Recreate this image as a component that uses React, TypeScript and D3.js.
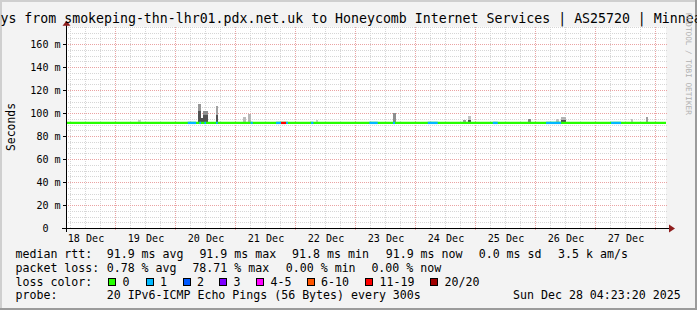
import React, { useEffect } from 'react';
import * as d3 from 'd3';

const W = 697;
const H = 310;
const MONO = '"DejaVu Sans Mono", monospace';

// ---------- data ----------
const titleText =
  '10 Days from smokeping-thn-lhr01.pdx.net.uk to Honeycomb Internet Services | AS25720 | Minneapolis, MN';
const rangeStart = '2025-12-18T04:23:20Z';
const rangeEnd = '2025-12-28T04:23:20Z';
const yMaxMs = 175;
const yMajorTicks = [0, 20, 40, 60, 80, 100, 120, 140, 160];
const medianRttMs = 91.9;

// loss episodes: start, end, lost pings (of 20)
const lossStart = [
  '2025-12-20T05:05Z', '2025-12-20T09:45Z', '2025-12-20T11:45Z', '2025-12-20T16:25Z',
  '2025-12-21T06:15Z', '2025-12-21T16:25Z', '2025-12-21T18:25Z', '2025-12-21T20:25Z',
  '2025-12-22T06:25Z', '2025-12-23T05:45Z', '2025-12-23T15:10Z', '2025-12-24T05:05Z',
  '2025-12-25T07:05Z', '2025-12-26T04:25Z', '2025-12-27T06:25Z',
];
const lossEnd = [
  '2025-12-20T08:25Z', '2025-12-20T10:25Z', '2025-12-20T12:25Z', '2025-12-20T17:05Z',
  '2025-12-21T07:05Z', '2025-12-21T18:25Z', '2025-12-21T20:25Z', '2025-12-21T21:10Z',
  '2025-12-22T07:20Z', '2025-12-23T09:05Z', '2025-12-23T16:00Z', '2025-12-24T09:05Z',
  '2025-12-25T09:05Z', '2025-12-26T10:25Z', '2025-12-27T10:25Z',
];
const lossCount = [1, 1, 1, 1, 1, 1, 12, 1, 1, 1, 1, 1, 1, 1, 1];

// smoke (rtt spread): start, end, dense-band top (ms), outer-band top (ms), outer density
const smokeStart = [
  '2025-12-19T09:05Z', '2025-12-20T09:05Z', '2025-12-20T10:25Z', '2025-12-20T11:20Z',
  '2025-12-20T16:25Z', '2025-12-21T03:05Z', '2025-12-21T05:05Z', '2025-12-22T08:25Z',
  '2025-12-23T15:05Z', '2025-12-24T19:05Z', '2025-12-24T21:05Z', '2025-12-25T21:05Z',
  '2025-12-26T08:25Z', '2025-12-26T10:25Z', '2025-12-27T14:25Z', '2025-12-27T20:25Z',
];
const smokeEnd = [
  '2025-12-19T10:25Z', '2025-12-20T10:25Z', '2025-12-20T11:20Z', '2025-12-20T13:10Z',
  '2025-12-20T17:10Z', '2025-12-21T04:25Z', '2025-12-21T06:25Z', '2025-12-22T09:05Z',
  '2025-12-23T16:25Z', '2025-12-24T20:25Z', '2025-12-24T22:25Z', '2025-12-25T22:25Z',
  '2025-12-26T09:30Z', '2025-12-26T12:25Z', '2025-12-27T15:20Z', '2025-12-27T21:20Z',
];
const smokeDense = [91.9, 102.0, 95.7, 98.3, 98.3, 91.9, 91.9, 91.9, 91.9, 91.9, 94.0, 91.9, 91.9, 94.3, 91.9, 91.9];
const smokeOuter = [93.9, 107.8, 95.7, 102.0, 106.1, 96.3, 99.1, 93.5, 100.3, 93.9, 97.4, 94.8, 94.8, 96.8, 94.8, 96.5];
const smokeOuterDensity = [0.12, 0.5, 0.5, 0.55, 0.42, 0.25, 0.28, 0.15, 0.55, 0.45, 0.22, 0.6, 0.22, 0.3, 0.22, 0.45];

// legend
const lossThresholds = [1, 2, 3, 4, 6, 11, 20];
const lossColors = ['#26ff00', '#00b8ff', '#0059ff', '#7e00ff', '#ff00ff', '#ff5500', '#ff0000', '#a00000'];
const lossLabels = ['0', '1', '2', '3', '4-5', '6-10', '11-19', '20/20'];
const rttStats = ['91.9 ms avg', '91.9 ms max', '91.8 ms min', '91.9 ms now', '0.0 ms sd', '3.5 k am/s'];
const lossStats = ['0.78 % avg', '78.71 % max', '0.00 % min', '0.00 % now'];
const probeText = '20 IPv6-ICMP Echo Pings (56 Bytes) every 300s';
const stampText = 'Sun Dec 28 04:23:20 2025';

// ---------- layout ----------
const X0 = 66;
const X1 = 666;
const Y0 = 228;
const Y1 = Y0 - yMaxMs * 1.15;
const rttStatX = [107.3, 200, 292.7, 386.3, 479.3, 558.7];
const lossStatX = [107.3, 193, 286.4, 372];
const swatchX = [108, 145.5, 182.5, 219, 256, 306.5, 365, 430];
const rowY = [258, 271.8, 285.6, 299.4];

export default function App() {
  useEffect(() => {
    document.body.style.margin = '0';
  }, []);

  const parse = (s: string) => new Date(s);
  const x = d3.scaleUtc().domain([parse(rangeStart), parse(rangeEnd)]).range([X0, X1]);
  const y = d3.scaleLinear().domain([0, yMaxMs]).range([Y0, Y1]);
  const lossColor = d3.scaleThreshold<number, string>().domain(lossThresholds).range(lossColors);
  const shade = d3.interpolateRgb('#e2e2e2', '#4a4a4a');

  const [d0, d1] = x.domain();
  const minorX = d3.utcHour.every(6)!.range(d0, d1);
  const majorX = d3.utcDay.range(d0, d1);
  const labelDays = d3.utcDay
    .range(d3.utcDay.offset(d0, -1), d1)
    .map((d) => d3.utcHour.offset(d, 12))
    .filter((d) => d >= d0 && d <= d1);
  const fmt = d3.utcFormat('%d %b');
  const minorY = d3.range(5, yMaxMs + 0.1, 5).filter((v) => v % 20 !== 0);
  const majorY = yMajorTicks.filter((v) => v > 0);

  const px = (v: number) => Math.round(v) + 0.5;

  return (
    <svg
      width={W}
      height={H}
      style={{ position: 'absolute', left: 0, top: 0, display: 'block' }}
      fontFamily={MONO}
    >
      {/* background and frame */}
      <rect x={0} y={0} width={W} height={H} fill="#f3f3f3" />
      <rect x={0} y={0} width={W} height={2} fill="#cfcfcf" />
      <rect x={0} y={0} width={2} height={H} fill="#cfcfcf" />
      <rect x={0} y={H - 2} width={W} height={2} fill="#9b9b9b" />
      <rect x={W - 2} y={0} width={2} height={H} fill="#9b9b9b" />

      {/* canvas */}
      <rect x={X0} y={Y1} width={X1 - X0} height={Y0 - Y1} fill="#ffffff" />

      {/* grid */}
      <g shapeRendering="crispEdges" strokeDasharray="1,1" strokeWidth={1}>
        {minorY.map((v) => (
          <line key={'my' + v} x1={X0} x2={X1 + 2} y1={px(y(v))} y2={px(y(v))} stroke="#d6d6d6" />
        ))}
        {minorX
          .filter((d) => d.getUTCHours() !== 0)
          .map((d) => (
            <line key={'mx' + +d} x1={px(x(d))} x2={px(x(d))} y1={Y1} y2={Y0} stroke="#d6d6d6" />
          ))}
        {majorY.map((v) => (
          <line key={'My' + v} x1={X0 - 2} x2={X1 + 2} y1={px(y(v))} y2={px(y(v))} stroke="#eaa3a3" />
        ))}
        {majorX.map((d) => (
          <line key={'Mx' + +d} x1={px(x(d))} x2={px(x(d))} y1={Y1} y2={Y0 + 2} stroke="#eaa3a3" />
        ))}
      </g>

      {/* smoke */}
      <g shapeRendering="crispEdges">
        {smokeStart.map((s, i) => {
          const xa = x(parse(s));
          const xb = x(parse(smokeEnd[i]));
          const dense = smokeDense[i];
          const outer = smokeOuter[i];
          return (
            <g key={'s' + i}>
              {outer > dense && (
                <rect x={xa} y={y(outer)} width={xb - xa} height={y(dense) - y(outer)} fill={shade(smokeOuterDensity[i])} />
              )}
              {dense > medianRttMs && (
                <rect x={xa} y={y(dense)} width={xb - xa} height={y(medianRttMs) - y(dense)} fill={shade(0.95)} />
              )}
            </g>
          );
        })}
      </g>

      {/* median line, coloured by loss */}
      <line
        x1={x(parse(rangeStart))}
        x2={x(parse(rangeEnd))}
        y1={y(medianRttMs) + 0.6}
        y2={y(medianRttMs) + 0.6}
        stroke={lossColor(0)}
        strokeWidth={2.3}
      />
      {lossStart.map((s, i) => (
        <line
          key={'l' + i}
          x1={x(parse(s))}
          x2={x(parse(lossEnd[i]))}
          y1={y(medianRttMs) + 0.6}
          y2={y(medianRttMs) + 0.6}
          stroke={lossColor(lossCount[i])}
          strokeWidth={2.3}
        />
      ))}

      {/* axes */}
      <g shapeRendering="crispEdges">
        <line x1={X0 - 4} x2={X1 + 5} y1={Y0 + 0.5} y2={Y0 + 0.5} stroke="#000" />
        <line x1={X0 + 0.5} x2={X0 + 0.5} y1={Y0 + 4} y2={Y1 - 3} stroke="#000" />
        {majorY.map((v) => (
          <line key={'t' + v} x1={X0 - 3} x2={X0} y1={px(y(v))} y2={px(y(v))} stroke="#000" />
        ))}
      </g>
      <path d={`M${X0 - 3.5},${Y1 - 1} L${X0 + 4.5},${Y1 - 1} L${X0 + 0.5},${Y1 - 6} Z`} fill="#8f1d1d" />
      <path d={`M${X1 + 3},${Y0 - 3.5} L${X1 + 3},${Y0 + 4.5} L${X1 + 9},${Y0 + 0.5} Z`} fill="#8f1d1d" />

      {/* y tick labels */}
      <g fontSize={10.1} fill="#000" textAnchor="end">
        {yMajorTicks.map((v) => (
          <text key={'yl' + v} x={v === 0 ? 48.6 : 60.7} y={y(v) + 3.7}>
            {v === 0 ? '0' : `${v} m`}
          </text>
        ))}
      </g>

      {/* x tick labels */}
      <g fontSize={10.1} fill="#000" textAnchor="middle">
        {labelDays.map((d) => (
          <text key={'xl' + +d} x={x(d) + 1} y={241.5}>
            {fmt(d)}
          </text>
        ))}
      </g>

      {/* y axis title */}
      <text
        transform="translate(15,127) rotate(-90)"
        textAnchor="middle"
        fontSize={11.4}
        fill="#000"
      >
        Seconds
      </text>

      {/* title */}
      <text x={-39.4} y={23} fontSize={13.24} fill="#000">
        {titleText}
      </text>

      {/* watermark */}
      <text transform="translate(685.5,13) rotate(90)" fontSize={7.7} fill="#b0b0b0">
        RRDTOOL / TOBI OETIKER
      </text>

      {/* legend */}
      <g fontSize={11.6} fill="#000" style={{ whiteSpace: 'pre' }}>
        <text x={15.5} y={rowY[0]}>median rtt:</text>
        {rttStats.map((t, i) => (
          <text key={'r' + i} x={rttStatX[i] - 0.6} y={rowY[0]}>{t}</text>
        ))}
        <text x={15.5} y={rowY[1]}>packet loss:</text>
        {lossStats.map((t, i) => (
          <text key={'p' + i} x={lossStatX[i] - 0.6} y={rowY[1]}>{t}</text>
        ))}
        <text x={15.5} y={rowY[2]}>loss color:</text>
        {lossLabels.map((t, i) => (
          <g key={'c' + i}>
            <rect
              x={swatchX[i] + 0.5}
              y={278.5}
              width={7}
              height={7}
              fill={lossColors[i]}
              stroke="#000"
              strokeWidth={1}
              shapeRendering="crispEdges"
            />
            <text x={swatchX[i] + 14.5} y={rowY[2]}>{t}</text>
          </g>
        ))}
        <text x={15.5} y={rowY[3]}>probe:</text>
        <text x={106.7} y={rowY[3]}>{probeText}</text>
        <text x={513.1} y={rowY[3]}>{stampText}</text>
      </g>
    </svg>
  );
}
